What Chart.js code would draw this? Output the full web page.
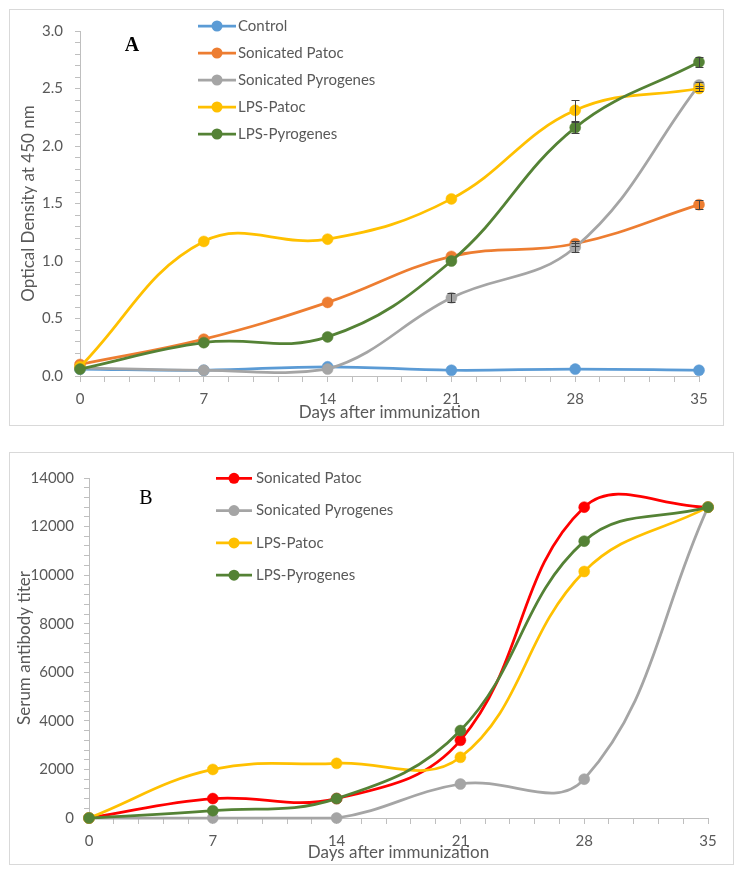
<!DOCTYPE html>
<html><head><meta charset="utf-8">
<script src="https://cdn.jsdelivr.net/npm/chart.js@4.4.1/dist/chart.umd.min.js"></script>
<style>
html,body{margin:0;padding:0;background:#fff;width:744px;height:873px;overflow:hidden}
.box{position:absolute;border:1px solid #D9D9D9;box-sizing:border-box;background:#fff}
canvas{position:absolute;left:0;top:0}
</style></head><body>
<div class="box" style="left:9px;top:9px;width:715px;height:417px"><canvas id="cA" width="713" height="415"></canvas></div>
<div class="box" style="left:9px;top:452px;width:725px;height:413px"><canvas id="cB" width="723" height="411"></canvas></div>
<script>
// ---------- data ----------
const days = [0, 7, 14, 21, 28, 35];
const xTickLabels = ['0', '7', '14', '21', '28', '35'];

// Panel A: optical density at 450 nm
const seriesNamesA = ['Control', 'Sonicated Patoc', 'Sonicated Pyrogenes', 'LPS-Patoc', 'LPS-Pyrogenes'];
const controlA  = [0.06, 0.05, 0.08, 0.05, 0.06, 0.05];
const sonPatocA = [0.10, 0.32, 0.64, 1.04, 1.15, 1.49];
const sonPyroA  = [0.07, 0.05, 0.06, 0.68, 1.12, 2.53];
const lpsPatocA = [0.08, 1.17, 1.19, 1.54, 2.31, 2.50];
const lpsPyroA  = [0.06, 0.29, 0.34, 1.00, 2.16, 2.73];
const errControlA  = [0, 0, 0, 0, 0, 0];
const errSonPatocA = [0, 0, 0, 0, 0.02, 0.04];
const errSonPyroA  = [0, 0, 0, 0.04, 0.04, 0.03];
const errLpsPatocA = [0, 0, 0, 0, 0.09, 0.02];
const errLpsPyroA  = [0, 0, 0, 0, 0.05, 0.04];
const yTickLabelsA = ['0.0', '0.5', '1.0', '1.5', '2.0', '2.5', '3.0'];
const colorsA = ['#5B9BD5', '#ED7D31', '#A5A5A5', '#FFC000', '#548235'];

// Panel B: serum antibody titer
const seriesNamesB = ['Sonicated Patoc', 'Sonicated Pyrogenes', 'LPS-Patoc', 'LPS-Pyrogenes'];
const sonPatocB = [0, 800, 800, 3200, 12800, 12800];
const sonPyroB  = [0, 0, 0, 1400, 1600, 12800];
const lpsPatocB = [0, 2000, 2250, 2500, 10150, 12800];
const lpsPyroB  = [0, 300, 800, 3600, 11400, 12800];
const yTickLabelsB = ['0', '2000', '4000', '6000', '8000', '10000', '12000', '14000'];
const colorsB = ['#FF0000', '#A5A5A5', '#FFC000', '#548235'];

// ---------- helpers ----------
const FONT = 'Lato, "Open Sans", sans-serif';
const TXT = '#595959';
const AXIS = '#BFBFBF';
Chart.defaults.font.family = FONT;
Chart.defaults.color = TXT;

function makeDatasets(names, seriesList, colors, errs) {
  const n = names.length;
  return names.map((nm, i) => ({
    label: nm,
    data: days.map((d, j) => ({ x: d, y: seriesList[i][j] })),
    errors: errs ? errs[i] : null,
    borderColor: colors[i], backgroundColor: colors[i],
    pointBackgroundColor: colors[i], pointBorderColor: colors[i],
    borderWidth: 2.75, pointRadius: 5.5, pointBorderWidth: 0.5, pointHoverRadius: 5.5,
    tension: 0.4, order: n - 1 - i, clip: false
  }));
}

function labelFor(labels) {
  return (v) => {
    const l = labels.find(s => Math.abs(parseFloat(s) - v) < 1e-6);
    return l === undefined ? '' : l;
  };
}
function minorTicks(labels, divisions) {
  return (s) => {
    const vals = labels.map(parseFloat);
    const step = (vals[1] - vals[0]) / divisions;
    const t = [];
    for (let k = 0; k <= (vals.length - 1) * divisions; k++) t.push({ value: Math.round((vals[0] + k * step) * 1e6) / 1e6 });
    s.ticks = t;
  };
}

const errorPlugin = {
  id: 'errBars',
  afterDatasetsDraw(chart) {
    const xs = chart.scales.x, ys = chart.scales.y, ctx = chart.ctx;
    ctx.save(); ctx.strokeStyle = '#404040'; ctx.lineWidth = 1;
    chart.data.datasets.forEach(ds => {
      if (!ds.errors) return;
      ds.data.forEach((p, j) => {
        const e = ds.errors[j]; if (!e) return;
        const x = Math.round(xs.getPixelForValue(p.x)) + 0.5;
        const yt = Math.round(ys.getPixelForValue(p.y + e)) + 0.5;
        const yb = Math.round(ys.getPixelForValue(p.y - e)) + 0.5;
        ctx.beginPath();
        ctx.moveTo(x, yt); ctx.lineTo(x, yb);
        ctx.moveTo(x - 4, yt); ctx.lineTo(x + 4, yt);
        ctx.moveTo(x - 4, yb); ctx.lineTo(x + 4, yb);
        ctx.stroke();
      });
    });
    ctx.restore();
  }
};

const legendPlugin = {
  id: 'customLegend',
  afterDraw(chart, args, o) {
    const ctx = chart.ctx;
    ctx.save();
    chart.data.datasets.forEach((ds, i) => {
      const y = o.y0 + i * o.dy;
      ctx.strokeStyle = ds.borderColor; ctx.lineWidth = 2.75;
      ctx.beginPath(); ctx.moveTo(o.x0, y); ctx.lineTo(o.x1, y); ctx.stroke();
      ctx.fillStyle = ds.borderColor;
      ctx.beginPath(); ctx.arc((o.x0 + o.x1) / 2, y, 5.5, 0, Math.PI * 2); ctx.fill();
      ctx.fillStyle = TXT; ctx.font = '15px ' + FONT;
      ctx.textBaseline = 'middle'; ctx.textAlign = 'left';
      ctx.fillText(ds.label, o.tx, y);
    });
    ctx.font = o.letterFont; ctx.fillStyle = '#000';
    ctx.textAlign = 'center'; ctx.textBaseline = 'middle';
    ctx.fillText(o.letter, o.lx, o.ly);
    ctx.restore();
  }
};

function makeChart(id, datasets, c) {
  return new Chart(document.getElementById(id), {
    type: 'line',
    data: { datasets },
    plugins: [errorPlugin, legendPlugin],
    options: {
      responsive: false, animation: false, devicePixelRatio: 1,
      layout: { padding: { left: 0, top: c.padTop, right: c.padRight, bottom: 0 } },
      plugins: { legend: { display: false }, tooltip: { enabled: false }, customLegend: c.legend },
      scales: {
        x: {
          type: 'linear', min: 0, max: 35,
          afterBuildTicks: minorTicks(xTickLabels, 5),
          afterFit: s => { s.height = c.xHeight; },
          ticks: { autoSkip: false, maxRotation: 0, padding: c.xTickPad, font: { size: 15 }, color: TXT, callback: labelFor(xTickLabels) },
          grid: { drawOnChartArea: false, drawTicks: true, tickLength: 6, color: AXIS },
          border: { display: true, color: AXIS, width: 1 },
          title: { display: true, text: 'Days after immunization', font: { size: 17 }, color: TXT, padding: { top: 0, bottom: c.xTitlePad } }
        },
        y: {
          type: 'linear', min: c.yMin, max: c.yMax,
          afterBuildTicks: minorTicks(c.yLabels, 5),
          afterFit: s => { s.width = c.yWidth; },
          ticks: { autoSkip: false, padding: c.yTickPad, font: { size: 15 }, color: TXT, callback: labelFor(c.yLabels) },
          grid: { drawOnChartArea: false, drawTicks: true, tickLength: 5, color: AXIS },
          border: { display: true, color: AXIS, width: 1 },
          title: { display: true, text: c.yTitle, font: { size: 17 }, color: TXT, padding: { top: c.yTitlePad, bottom: 0 } }
        }
      }
    }
  });
}

makeChart('cA',
  makeDatasets(seriesNamesA, [controlA, sonPatocA, sonPyroA, lpsPatocA, lpsPyroA], colorsA,
    [errControlA, errSonPatocA, errSonPyroA, errLpsPatocA, errLpsPyroA]),
  { padTop: 19, padRight: 24, xHeight: 49, yWidth: 70, xTickPad: 8, yTickPad: 12, xTitlePad: 2, yTitlePad: 8,
    yMin: 0, yMax: 3, yLabels: yTickLabelsA, yTitle: 'Optical Density at 450 nm',
    legend: { x0: 188, x1: 226, tx: 228, y0: 16, dy: 27, letter: 'A', letterFont: 'bold 20px "Liberation Serif", serif', lx: 122, ly: 36 } });

makeChart('cB',
  makeDatasets(seriesNamesB, [sonPatocB, sonPyroB, lpsPatocB, lpsPyroB], colorsB, null),
  { padTop: 25, padRight: 25, xHeight: 46, yWidth: 79, xTickPad: 8, yTickPad: 10, xTitlePad: 1.5, yTitlePad: 4,
    yMin: 0, yMax: 14000, yLabels: yTickLabelsB, yTitle: 'Serum antibody titer',
    legend: { x0: 206, x1: 242, tx: 246, y0: 25.3, dy: 32.3, letter: 'B', letterFont: '20px "Liberation Serif", serif', lx: 136, ly: 46 } });
</script>
</body></html>
